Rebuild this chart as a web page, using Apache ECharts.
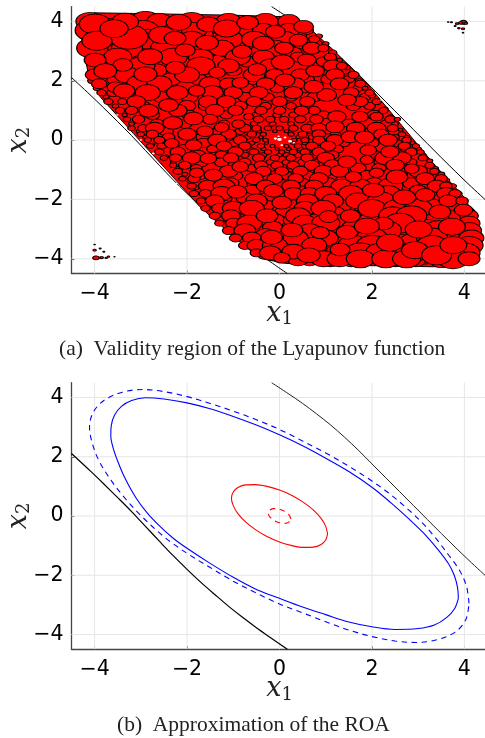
<!DOCTYPE html>
<html><head><meta charset="utf-8">
<style>html,body{margin:0;padding:0;background:#fff}#c{width:485px;height:738px}</style>
<script src="https://cdn.jsdelivr.net/npm/echarts@6/dist/echarts.min.js"></script></head>
<body><div id="c"></div>
<script>
const tickValues=[-4,-2,0,2,4];
const captionA='(a)  Validity region of the Lyapunov function';
const captionB='(b)  Approximation of the ROA';
const boundUpper=[[-0.17,4.5],[0.2,4.12],[0.5,3.8],[0.8,3.45],[1.1,3.08],[1.4,2.67],[1.7,2.23],[2.0,1.76],[2.3,1.29],[2.6,0.82],[2.9,0.35],[3.2,-0.12],[3.5,-0.59],[3.8,-1.05],[4.1,-1.5],[4.5,-2.08]];
const boundLower=[[0.17,-4.5],[-0.2,-4.1],[-0.5,-3.77],[-0.8,-3.42],[-1.1,-3.05],[-1.4,-2.65],[-1.7,-2.24],[-2.0,-1.8],[-2.3,-1.34],[-2.6,-0.85],[-2.9,-0.35],[-3.2,0.15],[-3.5,0.62],[-3.8,1.08],[-4.1,1.53],[-4.5,2.11]];
const blueSolid=[[3.87,-2.78],[3.85,-2.4],[3.78,-2.0],[3.66,-1.62],[3.42,-1.12],[3.12,-0.58],[2.8,-0.1],[2.4,0.46],[2.0,0.97],[1.5,1.5],[1.0,1.95],[0.5,2.37],[0,2.74],[-0.5,3.07],[-1.0,3.36],[-1.5,3.62],[-2.0,3.82],[-2.5,3.95],[-2.9,3.99],[-3.2,3.9],[-3.42,3.7],[-3.57,3.4],[-3.64,3.05],[-3.65,2.7],[-3.6,2.3],[-3.5,1.85],[-3.35,1.3],[-3.1,0.6],[-2.85,0.08],[-2.58,-0.36],[-2.3,-0.75],[-2.0,-1.09],[-1.5,-1.6],[-1.0,-2.07],[-0.5,-2.48],[0,-2.78],[0.5,-3.07],[1.0,-3.33],[1.5,-3.58],[2.0,-3.74],[2.5,-3.83],[3.0,-3.8],[3.35,-3.68],[3.62,-3.42],[3.79,-3.12]];
const blueDashed=[[4.1,-2.95],[4.05,-2.4],[3.9,-1.85],[3.65,-1.3],[3.38,-0.75],[3.1,-0.25],[2.8,0.2],[2.4,0.73],[2.0,1.18],[1.5,1.68],[1.0,2.13],[0.5,2.53],[0,2.92],[-0.5,3.25],[-1,3.54],[-1.5,3.8],[-2,4.03],[-2.5,4.2],[-2.95,4.27],[-3.4,4.18],[-3.8,3.9],[-4.03,3.5],[-4.11,3.0],[-4.05,2.45],[-3.9,1.85],[-3.62,1.15],[-3.31,0.54],[-3.0,0.02],[-2.65,-0.5],[-2.36,-0.87],[-2.0,-1.26],[-1.5,-1.74],[-1,-2.2],[-0.5,-2.6],[0,-2.97],[0.5,-3.27],[1,-3.57],[1.5,-3.85],[2,-4.07],[2.5,-4.22],[2.95,-4.27],[3.4,-4.18],[3.8,-3.92],[4.03,-3.5]];
const redSolid=[[1.04,-0.6],[1.0,-0.35],[0.9,-0.08],[0.735,0.2],[0.52,0.46],[0.27,0.695],[0,0.88],[-0.27,1.0],[-0.52,1.06],[-0.735,1.05],[-0.9,0.96],[-1.0,0.81],[-1.04,0.6],[-1.0,0.35],[-0.9,0.08],[-0.735,-0.2],[-0.52,-0.46],[-0.27,-0.695],[0,-0.88],[0.27,-1.0],[0.52,-1.06],[0.735,-1.05],[0.9,-0.96],[1.0,-0.81]];
const redDashed=[[0.245,-0.1],[0.21,0.03],[0.12,0.15],[0,0.23],[-0.12,0.25],[-0.21,0.2],[-0.245,0.1],[-0.21,-0.03],[-0.12,-0.15],[0,-0.23],[0.12,-0.25],[0.21,-0.2]];
const regionEdge=[[-4.31,3.93],[-4.24,3.03],[-4.13,2.19],[-3.88,1.46],[-3.16,0.22],[-2.44,-1.01],[-1.72,-2.25],[-0.99,-3.26],[-0.42,-3.99],[0.16,-4.16],[1.17,-4.21],[3.33,-4.27],[4.19,-4.16],[4.27,-3.15],[4.05,-2.02],[3.33,-0.79],[2.61,0.56],[1.89,1.91],[1.17,3.03],[0.66,3.76],[0.09,4.16],[-0.99,4.21],[-3.16,4.27],[-4.02,4.29]];
const rimCircles=[[0.85,3.5,.16],[1.0,3.25,.14],[1.15,2.95,.18],[1.3,2.7,.13],[1.45,2.45,.17],[1.6,2.2,.12],[1.72,2.0,.15],[1.85,1.75,.13],[2.0,1.5,.16],[2.12,1.25,.12],[2.28,1.05,.14],[2.4,.8,.11],[2.5,.55,.15],[2.62,.35,.1],[2.75,.1,.13],[2.88,-.1,.11],[3.0,-.3,.14],[3.12,-.5,.1],[3.25,-.7,.13],[3.38,-.95,.12],[3.5,-1.15,.15],[3.62,-1.35,.12],[3.75,-1.55,.16],[3.88,-1.8,.14],
[-4.05,2.0,.2],[-3.95,1.75,.16],[-3.75,1.45,.13],[-3.55,1.15,.14],[-3.35,.85,.11],[-3.2,.55,.13],[-3.05,.3,.1],[-2.9,.1,.12],[-2.75,-.15,.1],[-2.6,-.35,.13],[-2.45,-.55,.1],[-2.3,-.75,.12],[-2.2,-.95,.11],[-2.05,-1.15,.13],[-1.95,-1.4,.1],[-1.8,-1.6,.13],[-1.7,-1.8,.11],[-1.55,-2.0,.14],[-1.42,-2.25,.12],[-1.3,-2.5,.14],[-1.15,-2.7,.11],[-1,-2.95,.14],[-.85,-3.15,.12],[-.7,-3.4,.15],[-.55,-3.6,.13],[-.35,-3.8,.16],[-.15,-3.95,.18]];
const midCircles=[
[-3.7,3.85,.4],[-2.4,3.85,.4],[-1.35,3.85,.4],[-.95,3.85,.35],[-.5,3.85,.35],[0,3.85,.3],
[-3.85,3.55,.4],[-3.1,3.55,.4],[-1.65,3.55,.35],[-.9,3.55,.35],[.4,3.55,.3],
[-3.65,3.25,.35],[-2.7,3.25,.4],[-2.1,3.25,.35],[-.95,3.25,.35],[.45,3.25,.25],[.8,3.25,.2],
[-3.75,2.95,.4],[-2.95,2.95,.4],[-1.45,2.95,.35],[-1.05,2.95,.3],[-.5,2.95,.3],[.3,2.95,.3],
[-3.2,2.65,.4],[-2.5,2.65,.4],[-1.95,2.65,.35],[-1.35,2.65,.35],[-.7,2.65,.3],[.95,2.65,.25],
[-3.55,2.35,.35],[-2.65,2.35,.35],[-1.7,2.35,.3],[-1,2.35,.3],[-.25,2.35,.3],[1,2.35,.25],[1.4,2.35,.2],
[-3.55,2.05,.3],[-2.35,2.05,.35],[-1.75,2.05,.3],[-.6,2.05,.3],[.6,2.05,.25],[1.05,2.05,.25],[1.5,2.05,.2],
[-3.2,1.75,.35],[-2.5,1.75,.3],[-1.25,1.75,.3],[-.7,1.75,.25],[-.05,1.75,.25],[.55,1.75,.25],[1.7,1.75,.18],
[-3.3,1.45,.25],[-2.55,1.45,.3],[-1.95,1.45,.3],[-1.25,1.45,.25],[-.75,1.45,.25],[-.25,1.45,.22],[.25,1.45,.22],[.75,1.45,.25],[1.85,1.45,.2],
[-2.95,1.15,.25],[-2,1.15,.3],[-1.6,1.15,.25],[-.85,1.15,.25],[-.3,1.15,.2],[.25,1.15,.18],[.6,1.15,.22],[1.6,1.15,.25],[1.95,1.15,.2],
[-2.75,.85,.25],[-1.95,.85,.25],[-1.15,.85,.22],[-.5,.85,.15],[-.05,.85,.15],[.3,.85,.16],[.95,.85,.22],[2.05,.85,.25],
[-2.65,.55,.25],[-2.05,.55,.25],[-1.2,.55,.2],[-.55,.55,.13],[-.15,.55,.12],[.25,.55,.12],[.7,.55,.16],[1.5,.55,.25],[2.3,.55,.2],
[-2.45,.3,.25],[-1.35,.3,.2],[-.85,.3,.18],[-.45,.3,.1],[-.1,.3,.08],[.15,.3,.08],[.65,.3,.13],[1,.3,.2],[1.45,.3,.25],[2,.3,.25],
[-2.4,.1,.22],[-1.65,.1,.25],[-.7,.1,.13],[-.4,.1,.08],[.4,.1,.08],[.7,.1,.12],[1.05,.1,.18],[2.5,.1,.15],
[-2.35,-.1,.2],[-1.65,-.1,.25],[-1,-.1,.18],[-.6,-.1,.11],[-.28,-.1,.07],[.28,-.1,.07],[.55,-.1,.1],[.9,-.1,.15],[1.4,-.1,.2],[2,-.1,.25],[2.55,-.1,.18],
[-2.05,-.3,.25],[-1.45,-.3,.2],[-.65,-.3,.13],[-.35,-.3,.09],[-.05,-.3,.07],[.2,-.3,.08],[.45,-.3,.11],[.75,-.3,.15],[1.25,-.3,.22],[2.7,-.3,.15],
[-1.75,-.5,.25],[-1.25,-.5,.22],[-.75,-.5,.15],[-.35,-.5,.12],[0,-.5,.1],[.15,-.5,.12],[.4,-.5,.14],[.75,-.5,.17],[1.15,-.5,.22],[2.05,-.5,.25],
[-1.7,-.75,.25],[-1.25,-.75,.25],[-.75,-.75,.22],[-.2,-.75,.15],[.15,-.75,.15],[.5,-.75,.18],[.85,-.75,.2],[2.2,-.75,.25],[2.85,-.75,.2],
[-1.8,-.95,.2],[-.6,-.95,.2],[-.2,-.95,.18],[.25,-.95,.18],[.7,-.95,.22],[1.7,-.95,.28],[2.15,-.95,.25],[2.7,-.95,.22],
[-1.7,-1.2,.2],[-.95,-1.2,.25],[-.3,-1.2,.22],[.15,-1.2,.22],[.6,-1.2,.25],[1.1,-1.2,.25],[1.9,-1.2,.28],[2.9,-1.2,.25],[3.3,-1.2,.15],
[-1.05,-1.45,.28],[-.55,-1.45,.25],[0,-1.45,.25],[.5,-1.45,.25],[1.05,-1.45,.3],[1.55,-1.45,.3],[2.05,-1.45,.3],[2.85,-1.45,.3],
[-.6,-1.7,.3],[.45,-1.7,.25],[.85,-1.7,.28],[1.3,-1.7,.3],[1.75,-1.7,.3],[3,-1.7,.3],[3.35,-1.7,.3],
[-1.2,-1.95,.28],[-.75,-1.95,.3],[-.3,-1.95,.28],[.35,-1.95,.3],[.85,-1.95,.3],[1.45,-1.95,.35],[2.35,-1.95,.35],[3.4,-1.95,.3],
[-1.2,-2.2,.28],[-.3,-2.2,.3],[.3,-2.2,.3],[.75,-2.2,.3],[1.35,-2.2,.35],[1.8,-2.2,.35],[2.3,-2.2,.35],[3.3,-2.2,.35],[3.75,-2.2,.3],
[-.8,-2.45,.3],[-.55,-2.45,.3],[.1,-2.45,.35],[.7,-2.45,.35],[1.2,-2.45,.35],[2,-2.45,.4],[2.65,-2.45,.4],[3,-2.45,.4],[4.05,-2.45,.3],
[-.85,-2.7,.3],[-.1,-2.7,.35],[.3,-2.7,.35],[.8,-2.7,.35],[1.45,-2.7,.4],[2,-2.7,.45],[2.4,-2.7,.4],[3,-2.7,.45],[3.4,-2.7,.45],
[-.55,-2.95,.35],[-.15,-2.95,.35],[1.05,-2.95,.4],[1.6,-2.95,.4],[2.7,-2.95,.45],[3.2,-2.95,.45],
[-.3,-3.2,.35],[.65,-3.2,.35],[1.35,-3.2,.4],[2.6,-3.2,.45],[3.65,-3.2,.45],[3.95,-3.2,.4],
[.25,-3.45,.35],[.6,-3.45,.35],[1.05,-3.45,.4],[1.4,-3.45,.4],[2.65,-3.45,.45],[2.9,-3.45,.5],[3.75,-3.45,.5],
[.05,-3.7,.35],[.95,-3.7,.4],[1.1,-3.7,.4],[1.9,-3.7,.45],[2.5,-3.7,.5],[3.7,-3.7,.5],
[.2,-3.9,.3],[.9,-3.9,.35],[1.5,-3.9,.4],[2.05,-3.9,.4],[3.15,-3.9,.45],[3.5,-3.9,.45],
[.65,-4.05,.3],[1.1,-4.05,.35],[1.55,-4.05,.35],[2.5,-4.05,.35],[2.95,-4.05,.35],[3.5,-4.05,.4]];
const smallCircles=[
[-4.1,4,.45],[-2.9,4,.5],[-2.6,4,.4],[-1.9,4,.45],[-1.1,4,.4],[-.3,4,.4],[.2,4,.35],
[-4.05,3.7,.55],[-2.95,3.7,.5],[-2.2,3.7,.45],[-1.85,3.7,.4],[-.7,3.7,.4],[-.35,3.7,.35],[.2,3.7,.35],[.6,3.7,.2],
[-2.85,3.4,.5],[-1.9,3.4,.4],[-1.1,3.4,.45],[-.55,3.4,.4],[.1,3.4,.4],[.75,3.4,.18],
[-4.05,3.1,.5],[-3.3,3.1,.5],[-2.45,3.1,.5],[-1.25,3.1,.4],[-.1,3.1,.4],[.1,3.1,.3],[.7,3.1,.3],[.95,3.1,.18],
[-3.5,2.8,.45],[-2.3,2.8,.45],[-1.7,2.8,.4],[-.9,2.8,.4],[-.35,2.8,.35],[.4,2.8,.25],[1.1,2.8,.2],
[-3,2.5,.45],[-1.7,2.5,.45],[-1.1,2.5,.35],[-.2,2.5,.35],[1.15,2.5,.3],[1.35,2.5,.18],
[-4,2.2,.3],[-3.3,2.2,.4],[-2,2.2,.4],[-.55,2.2,.35],[-.1,2.2,.3],[.45,2.2,.3],[1.2,2.2,.3],[1.6,2.2,.18],
[-3.9,1.9,.25],[-3,1.9,.45],[-2.6,1.9,.4],[-1.5,1.9,.35],[-1.1,1.9,.3],[-.3,1.9,.3],[.35,1.9,.3],[1.3,1.9,.3],[1.75,1.9,.18],
[-3.85,1.6,.15],[-3.6,1.6,.2],[-2.85,1.6,.4],[-1.45,1.6,.35],[-1,1.6,.3],[-.45,1.6,.3],[.3,1.6,.3],[1.55,1.6,.25],[1.95,1.6,.15],
[-3.7,1.3,.15],[-3.4,1.3,.15],[-3.1,1.3,.3],[-1.55,1.3,.3],[-1.15,1.3,.3],[-.55,1.3,.25],[0,1.3,.25],[.6,1.3,.25],[1.75,1.3,.25],[2.1,1.3,.15],
[-3.45,1,.15],[-3.2,1,.2],[-2.2,1,.3],[-1.4,1,.3],[-.95,1,.25],[-.4,1,.2],[0,1,.2],[.75,1,.2],[2.25,1,.15],
[-3.3,.7,.12],[-3.05,.7,.2],[-1.5,.7,.25],[-.45,.7,.17],[-.2,.7,.15],[.1,.7,.15],[.45,.7,.18],[.8,.7,.22],[2.4,.7,.18],[2.55,.7,.1],
[-3.2,.4,.12],[-2.95,.4,.18],[-2.7,.4,.3],[-.75,.4,.2],[-.5,.4,.15],[-.25,.4,.12],[0,.4,.12],[.3,.4,.15],[.6,.4,.2],[.85,.4,.25],[1.65,.4,.3],[2.1,.4,.3],[2.45,.4,.18],
[-3,.2,.12],[-2.75,.2,.2],[-2,.2,.3],[-1.1,.2,.25],[-.6,.2,.15],[-.35,.2,.1],[.25,.2,.1],[.5,.2,.15],[.85,.2,.22],[2.2,.2,.25],[2.65,.2,.12],
[-2.85,0,.12],[-2.6,0,.18],[-1.35,0,.3],[-.85,0,.22],[-.5,0,.12],[-.3,0,.09],[.32,0,.09],[.55,0,.13],[.85,0,.2],[1.2,0,.28],[2.35,0,.3],[2.75,0,.15],
[-2.8,-.2,.12],[-2.55,-.2,.15],[-1.2,-.2,.25],[-.75,-.2,.2],[-.4,-.2,.12],[-.15,-.2,.08],[.15,-.2,.08],[.4,-.2,.12],[.7,-.2,.2],[1.05,-.2,.25],[2.7,-.2,.2],[2.95,-.2,.12],
[-2.6,-.4,.15],[-2.2,-.4,.25],[-.95,-.4,.25],[-.55,-.4,.16],[-.25,-.4,.12],[.05,-.4,.1],[.3,-.4,.13],[.55,-.4,.16],[.85,-.4,.22],[2.85,-.4,.2],[3.05,-.4,.12],
[-2.5,-.6,.12],[-2.25,-.6,.2],[-1.9,-.6,.3],[-1.05,-.6,.25],[-.45,-.6,.2],[-.1,-.6,.15],[.25,-.6,.16],[.6,-.6,.2],[1,-.6,.28],[2.3,-.6,.35],[2.65,-.6,.3],[3.1,-.6,.15],
[-2.3,-.85,.12],[-2.05,-.85,.2],[-.4,-.85,.22],[-.05,-.85,.2],[.3,-.85,.2],[.7,-.85,.25],[1.15,-.85,.28],[2.5,-.85,.3],[3.25,-.85,.15],
[-2.2,-1.05,.15],[-1.1,-1.05,.3],[-.35,-1.05,.25],[.05,-1.05,.22],[.45,-1.05,.25],[.95,-1.05,.3],[1.3,-1.05,.3],[3,-1.05,.3],[3.35,-1.05,.15],
[-2.1,-1.3,.12],[-1.85,-1.3,.2],[-.55,-1.3,.3],[-.1,-1.3,.25],[.35,-1.3,.25],[.85,-1.3,.3],[3.15,-1.3,.3],[3.5,-1.3,.2],
[-1.9,-1.55,.15],[-1.55,-1.55,.3],[-1.2,-1.55,.35],[-.3,-1.55,.3],[.25,-1.55,.3],[.75,-1.55,.3],[1.35,-1.55,.35],[1.75,-1.55,.35],[2.4,-1.55,.4],[3.4,-1.55,.3],[3.6,-1.55,.2],
[-1.85,-1.8,.15],[-1.6,-1.8,.2],[-1.25,-1.8,.35],[.3,-1.8,.3],[.65,-1.8,.3],[1,-1.8,.35],[1.55,-1.8,.4],[2.35,-1.8,.4],[3.6,-1.8,.3],[3.8,-1.8,.2],
[-1.7,-2.05,.15],[-1.4,-2.05,.3],[-.5,-2.05,.35],[.6,-2.05,.35],[1.15,-2.05,.35],[1.7,-2.05,.4],[2.2,-2.05,.45],[3.65,-2.05,.3],[3.95,-2.05,.2],
[-1.6,-2.3,.15],[-1.3,-2.3,.25],[-1,-2.3,.35],[-.6,-2.3,.4],[.55,-2.3,.35],[.95,-2.3,.4],[2,-2.3,.45],[2.55,-2.3,.45],[3,-2.3,.45],
[-1.4,-2.55,.18],[-1.05,-2.55,.3],[.4,-2.55,.4],[2.45,-2.55,.45],[2.85,-2.55,.5],[4.1,-2.55,.3],
[-1.3,-2.8,.15],[-1,-2.8,.25],[-.65,-2.8,.4],[.55,-2.8,.4],[1,-2.8,.45],[2.6,-2.8,.5],[4.1,-2.8,.35],
[-1.1,-3.05,.2],[-.75,-3.05,.35],[.65,-3.05,.35],[1.95,-3.05,.5],[2.3,-3.05,.5],[3.45,-3.05,.5],[4.1,-3.05,.4],
[-.95,-3.3,.2],[-.6,-3.3,.3],[.35,-3.3,.4],[1,-3.3,.4],[1.75,-3.3,.45],[2,-3.3,.5],[3.3,-3.3,.5],[4.15,-3.3,.4],
[-.75,-3.55,.2],[-.5,-3.55,.3],[-.1,-3.55,.4],[.75,-3.55,.4],[1.6,-3.55,.5],[2,-3.55,.5],[3.3,-3.55,.5],[4.1,-3.55,.45],
[-.5,-3.8,.2],[-.2,-3.8,.35],[1.3,-3.8,.45],[1.75,-3.8,.5],[2.2,-3.8,.5],[2.85,-3.8,.5],[4,-3.8,.5],
[.4,-4,.35],[.95,-4,.4],[1.3,-4,.4],[1.75,-4,.45],[2.3,-4,.45],[2.75,-4,.45],[3.75,-4,.5],[4.1,-4,.35]];
const largeCircles=[
[-3.99,3.91,.68],[-3.26,3.48,.83],[-3.95,3.35,.65],[-3.34,3.99,.58],[-3.58,3.76,.61],[-2.18,3.97,.54],[-2.54,3.54,.58],[-1.54,3.9,.5],[-1.14,3.76,.58],[-.69,3.96,.47],[-2.26,3.43,.47],[-1.57,3.28,.5],[-.35,3.26,.47],[-.09,3.65,.43],[-.81,2.98,.43],[.41,3.37,.4],[.52,3.82,.43],[-2.8,2.81,.54],[-3.39,2.53,.43],[-3.99,2.7,.47],[-3.77,2.33,.5],[-2.9,2.22,.5],[-2.25,2.44,.43],[-2.04,3.03,.43],[-1.35,2.27,.36],[.07,2.62,.5],[.59,2.7,.4],[.77,2.33,.4],[-.48,2.38,.4],[.12,2.02,.43],[-.85,1.93,.36],[-3.55,1.78,.36],[-3.36,1.66,.47],[-2.21,1.6,.47],[-1.79,1.66,.36],[-2.83,.99,.43],[-2.4,1.18,.43],[-2.31,.58,.43],[-1.61,.3,.36],[-1.86,.73,.43],[1.02,1.52,.43],[1.46,1.35,.4],[.74,1.8,.43],[.48,.99,.32],[1.24,.79,.4],[1.2,.45,.4],[1.74,.79,.36],[2.1,.79,.29],[1.53,.11,.4],[1.84,.09,.43],[-1.25,.43,.32],[-.89,.54,.29],[-.67,.79,.22],[-1.86,-.17,.36],[-2.33,-.11,.32],[-1.54,-.62,.36],[-1.43,-1.18,.4],[-.85,-.9,.36],[-1.79,-1.1,.32],[-.92,-1.74,.43],[-.13,-1.71,.43],[.05,-2.11,.43],[-.27,-2.55,.47],[.27,-3.03,.47],[-.17,-3.28,.47],[.3,-3.76,.5],[.63,-3.88,.5],[.05,-3.97,.36],[1.31,-3.69,.43],[1.46,-3.11,.47],[2.39,-3.46,.58],[2.93,-3.71,.58],[3.01,-3.01,.58],[3.4,-3.88,.65],[3.76,-3.54,.58],[3.73,-2.92,.58],[3.47,-2.42,.47],[3.98,-2.36,.4],[2.7,-1.93,.5],[3.15,-1.85,.43],[2.03,-1.69,.47],[2.54,-1.24,.47],[2.86,-.96,.32],[2.39,-.39,.4],[1.92,-.34,.36],[1.46,-.73,.4],[2.1,-1.1,.32],[1.6,-1.24,.36],[1.06,-2.58,.4],[1.53,-2.56,.43],[2.25,-2.81,.43],[1.89,-2.9,.54],[.88,-3.12,.4],[1.89,-.67,.29]];
const clusterCircles=[[3.98,3.97,.14],[4.03,3.94,.08],[3.92,3.95,.09],[3.84,3.92,.07],[3.72,3.97,.04],[3.65,3.98,.03],[3.97,3.75,.07],[3.88,3.77,.05],[3.97,3.62,.03],[3.8,3.85,.04],
[-3.97,-3.97,.14],[-3.85,-3.96,.08],[-3.75,-3.97,.05],[-4,-3.71,.07],[-4,-3.52,.03],[-3.88,-3.65,.04],[-3.8,-3.76,.04],[-3.7,-3.93,.05],[-3.57,-3.93,.025]];
const gapSpots=[[0.0,0.02,.1],[-0.09,0.05,.07],[0.12,0.09,.06],[0.23,-0.04,.09],[0.31,-0.09,.05],[0.05,-0.17,.06],[-0.02,0.13,.05],[-3.51,0.85,.05],[-3.0,0.0,.05],[-2.73,-0.45,.06],[-2.23,-1.46,.05],[2.2,1.35,.05],[3.04,-0.11,.06],[3.32,-0.56,.05]];

const minus=v=>String(v).replace('-','\u2212');
const grids=[{left:71.5,top:6.6,width:416,height:267,outerBoundsMode:'none'},{left:71.5,top:382.7,width:416,height:266.6,outerBoundsMode:'none'}];
const axisBase=(m)=>({type:'value',min:-4.5,max:4.5,nameMoveOverlap:false,
 axisLine:{show:true,onZero:false,lineStyle:{color:'#444',width:1.3}},
 axisTick:{show:true,inside:true,length:3,customValues:tickValues,lineStyle:{color:'#444',width:1}},
 axisLabel:{customValues:tickValues,formatter:minus,color:'#000',fontFamily:'DejaVu Sans',fontSize:20.5,margin:m},
 splitLine:{show:false}});
const rich={v:{fontFamily:'DejaVu Serif',fontStyle:'italic',fontSize:27,color:'#222'},s:{fontFamily:'DejaVu Serif',fontSize:18,color:'#222',verticalAlign:'bottom',padding:[12,0,0,0]}};
const xAxes=[0,1].map(i=>({...axisBase(10),gridIndex:i,name:'{v|x}{s|1}',nameLocation:'middle',nameGap:25,nameTextStyle:{rich}}));
const yAxes=[0,1].map(i=>({...axisBase(8),gridIndex:i,name:'{v|x}{s|2}',nameLocation:'middle',nameGap:38,nameRotate:90,nameTextStyle:{rich}}));
const guide=(i)=>[
 ...tickValues.map(v=>({type:'line',xAxisIndex:i,yAxisIndex:i,silent:true,symbol:'none',z:1,data:[[v,-4.5],[v,4.5]],lineStyle:{color:'#e6e6e6',width:1}})),
 ...tickValues.map(v=>({type:'line',xAxisIndex:i,yAxisIndex:i,silent:true,symbol:'none',z:1,data:[[-4.5,v],[4.5,v]],lineStyle:{color:'#e6e6e6',width:1}}))];
const curve=(i,d,color,w,dash,smooth,closed)=>({type:'line',xAxisIndex:i,yAxisIndex:i,symbol:'none',z:5,clip:true,smooth:smooth,
 data:closed?d.concat([d[0]]):d,lineStyle:{color,width:w,type:dash?[5.5,4.5]:'solid'}});
const circles=(d,fill,line,z,k)=>({type:'scatter',xAxisIndex:0,yAxisIndex:0,z,progressive:0,large:false,data:d,
 symbolSize:v=>[v[2]*46.2*k,v[2]*29.6*k],itemStyle:{color:fill,borderColor:line,borderWidth:line==='none'?0:1,opacity:1}});
const capStyle={fontFamily:'Liberation Serif',fontWeight:'normal',fontSize:21.5,color:'#222'};
const option={animation:false,backgroundColor:'#fff',grid:grids,xAxis:xAxes,yAxis:yAxes,
 title:[{text:captionA,left:59,top:338,textStyle:capStyle,padding:0},
        {text:captionB,left:117,top:714,textStyle:capStyle,padding:0}],
 series:[...guide(0),...guide(1),
  curve(0,boundUpper,'#000',1,false,.34),curve(0,boundLower,'#000',1,false,.34),
  {type:'custom',xAxisIndex:0,yAxisIndex:0,z:6,data:[0],renderItem:(p,api)=>({type:'polygon',shape:{points:regionEdge.map(q=>api.coord(q))},style:{fill:'#ff0000',stroke:'#000',lineWidth:1}})},
  circles(midCircles,'#ff0000','#000',7,1.25),circles(rimCircles,'#ff0000','#000',7.2,1),circles(smallCircles,'#ff0000','#000',7.5,1.35),circles(largeCircles,'#ff0000','#000',8,1),circles(clusterCircles,'#ff0000','#000',8,1),circles(gapSpots,'#fff','none',9,1),
  curve(1,boundUpper,'#222',1,false,.34),curve(1,boundLower,'#000',1.2,false,.34),
  curve(1,blueSolid,'#0000ff',1.1,false,.34,true),curve(1,blueDashed,'#0000ff',1.1,true,.34,true),
  curve(1,redSolid,'#ff0000',1.1,false,.34,true),curve(1,redDashed,'#ff0000',1.1,true,.34,true)]};
echarts.init(document.getElementById('c'),null,{renderer:'canvas'}).setOption(option);
</script></body></html>
